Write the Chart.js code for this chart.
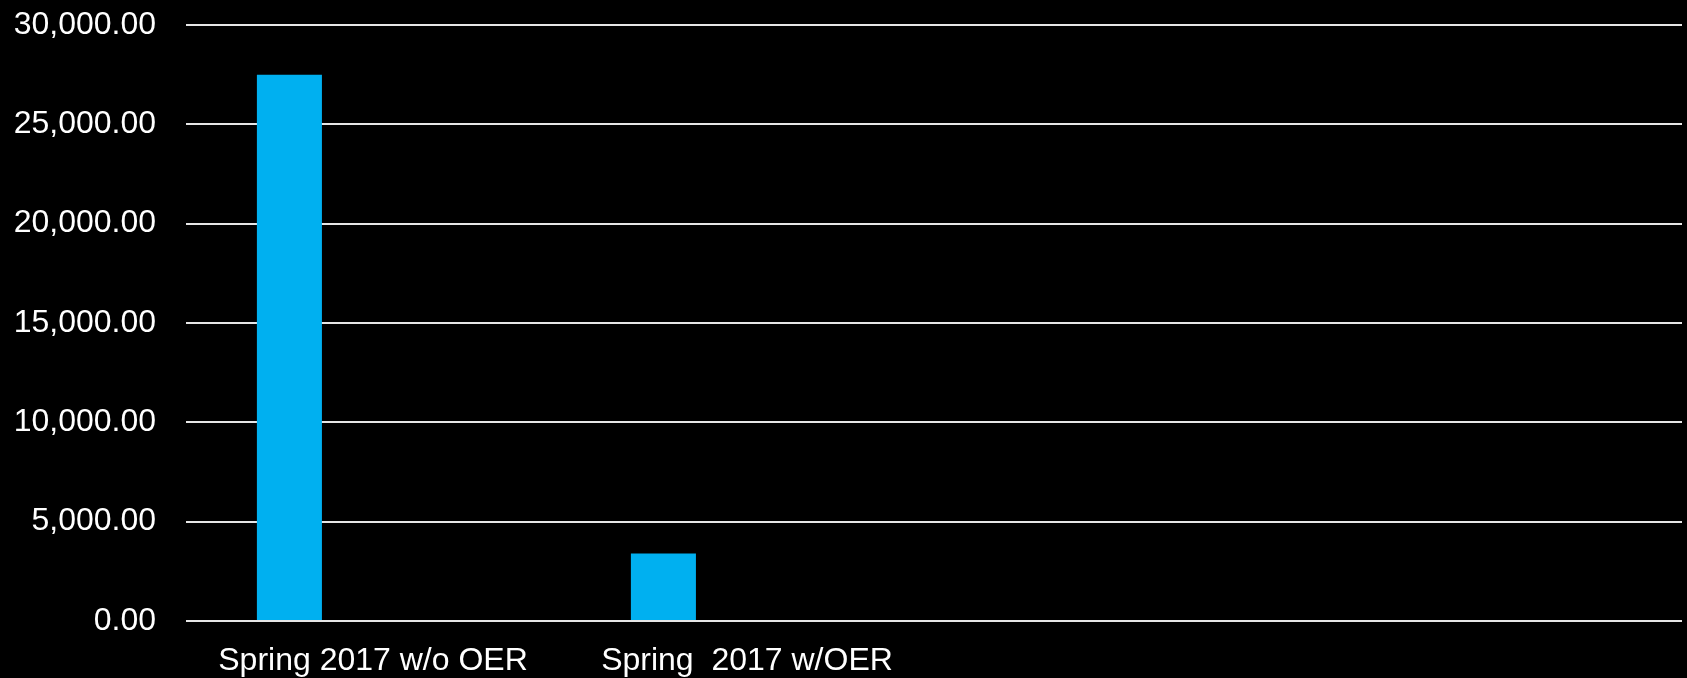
<!DOCTYPE html>
<html>
<head>
<meta charset="utf-8">
<script src="https://cdn.jsdelivr.net/npm/chart.js@4/dist/chart.umd.min.js"></script>
<style>
  html, body { margin: 0; padding: 0; background: #000; }
  #wrap { width: 1687px; height: 678px; position: relative; }
</style>
</head>
<body>
<div id="wrap"><canvas id="costChart"></canvas></div>
<script>
// values
const categories = ['Spring 2017 w/o OER', 'Spring  2017 w/OER', '', ''];
const costs = [27500, 3400, null, null];
const emptySeries = [null, null, null, null];
const yTicks = [0, 5000, 10000, 15000, 20000, 25000, 30000];

const font = { family: "'Liberation Sans', Arial, sans-serif", size: 32 };

new Chart(document.querySelector('#costChart'), {
    type: 'bar',
    data: {
        labels: categories,
        datasets: [
            { data: costs, backgroundColor: '#00b0f0', categoryPercentage: 0.894, barPercentage: 0.389 },
            { data: emptySeries, backgroundColor: '#00b0f0', categoryPercentage: 0.894, barPercentage: 0.389 }
        ]
    },
    options: {
        responsive: true,
        maintainAspectRatio: false,
        animation: false,
        layout: { padding: { top: 25, right: 5, left: 0, bottom: 0 } },
        plugins: { legend: { display: false }, tooltip: { enabled: false } },
        scales: {
            x: {
                grid: { display: false },
                border: { display: false },
                ticks: { color: '#ffffff', font: font, padding: 13, maxRotation: 0, autoSkip: false },
                afterFit: (scale) => { scale.height = 57; }
            },
            y: {
                min: 0,
                max: 30000,
                afterBuildTicks: (scale) => { scale.ticks = yTicks.map(v => ({ value: v })); },
                grid: { color: '#e6e6e6', lineWidth: 2, drawTicks: false },
                border: { display: false },
                ticks: {
                    color: '#ffffff',
                    font: font,
                    padding: 30,
                    callback: (v) => Number(v).toLocaleString('en-US', { minimumFractionDigits: 2, maximumFractionDigits: 2 })
                },
                afterFit: (scale) => {
                    scale.width = 186;
                    scale.paddingTop = 0;
                    scale.paddingBottom = 0;
                }
            }
        }
    }
});
</script>
</body>
</html>
